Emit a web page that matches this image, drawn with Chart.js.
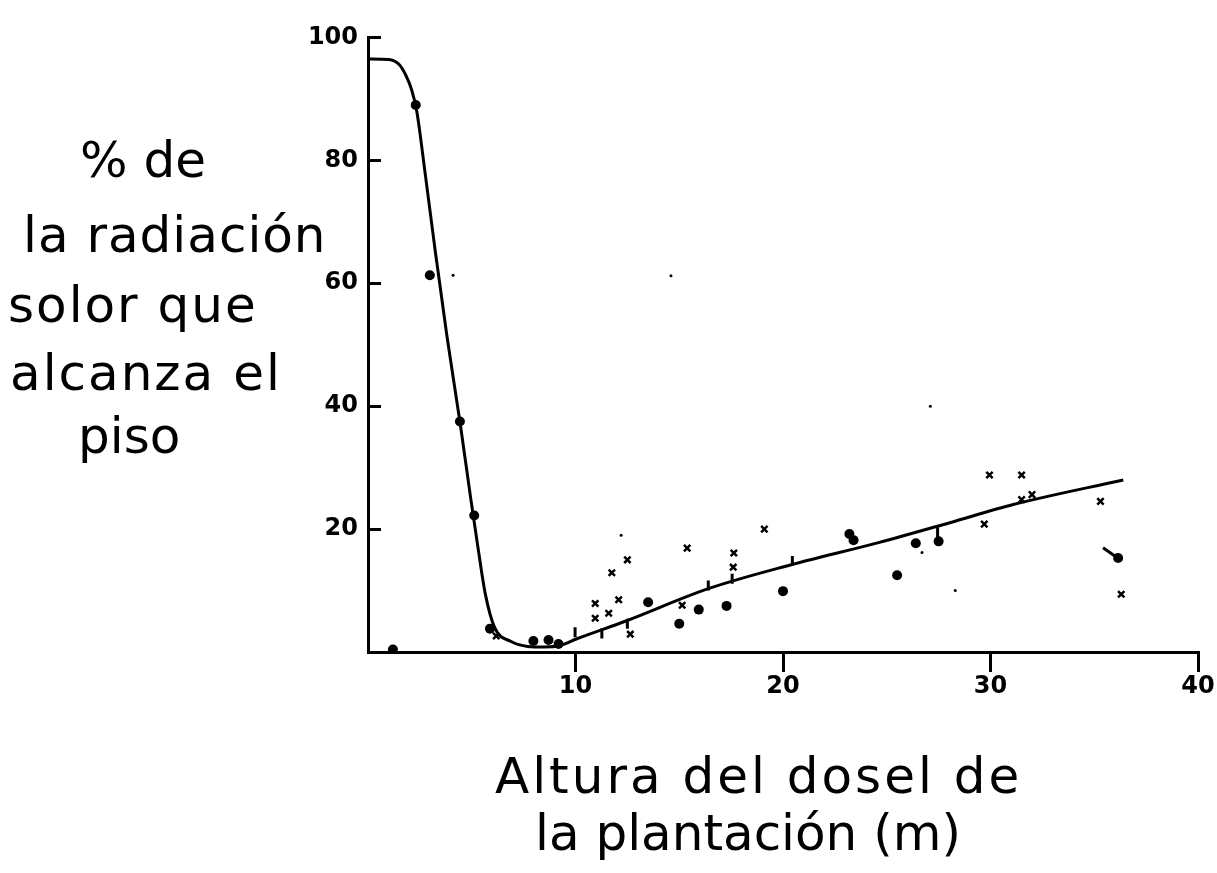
<!DOCTYPE html>
<html>
<head>
<meta charset="utf-8">
<script src="https://cdn.jsdelivr.net/npm/chart.js@4.4.1/dist/chart.umd.min.js"></script>
<style>
  html, body { margin: 0; padding: 0; background: #fff; }
  #wrap { position: relative; width: 1217px; height: 873px; }
  .hand { position: absolute; font-family: 'DejaVu Sans', sans-serif; color: #000; white-space: nowrap; line-height: 50px; font-size: 50px; }
</style>
</head>
<body>
<div id="wrap">
  <canvas id="chartRadiacion"></canvas>
  <!-- titulo eje Y (escrito a mano, horizontal) -->
  <div class="hand" style="left:80px; top:135px;">% de</div>
  <div class="hand" style="left:23px; top:210px; letter-spacing:1px;">la radiación</div>
  <div class="hand" style="left:8px; top:280px; letter-spacing:2px;">solor que</div>
  <div class="hand" style="left:10px; top:348px; letter-spacing:2px;">alcanza el</div>
  <div class="hand" style="left:78px; top:411px;">piso</div>
  <!-- titulo eje X -->
  <div class="hand" style="left:495px; top:751px; letter-spacing:3px;">Altura del dosel de</div>
  <div class="hand" style="left:535px; top:808px;">la plantación (m)</div>
</div>
<script>
// curva ajustada (sigmoide que baja y luego recta que sube)
const curvePoints = [
  [0, 96.5], [1.0, 96.4], [1.5, 95.6], [1.8, 94], [2.1, 91.5], [2.35, 88], [2.75, 78],
  [3.25, 65], [3.8, 51.5], [4.45, 37], [4.95, 25], [5.3, 17], [5.65, 9.5],
  [6.1, 4], [6.9, 1.7], [7.7, 0.9], [8.5, 0.8], [9.3, 1.1], [10.1, 2.2], [12.4, 5],
  [16.4, 10.3], [20.4, 14.2], [24.6, 17.8], [28, 21], [31.1, 24], [36.4, 28]
];

// puntos (circulos llenos)
const circlePoints = [
  [1.2, 0.4], [2.3, 89], [2.98, 61.3], [4.43, 37.5], [5.12, 22.2], [5.88, 3.8],
  [7.97, 1.8], [8.7, 1.95], [9.18, 1.3], [13.5, 8.1], [15.0, 4.6], [15.94, 6.9],
  [17.28, 7.5], [20.0, 9.9], [23.2, 19.2], [23.4, 18.2], [25.5, 12.5], [26.4, 17.7],
  [27.5, 18.0], [36.15, 15.3]
];

// cruces
const crossPoints = [
  [6.18, 2.6], [10.95, 7.9], [10.95, 5.5], [11.6, 6.3], [11.75, 12.9], [12.08, 8.5],
  [12.5, 15.0], [12.64, 2.9], [15.14, 7.6], [15.38, 16.9], [17.63, 16.1], [17.6, 13.8],
  [19.1, 20.0], [29.7, 20.8], [29.95, 28.8], [31.5, 28.8], [31.5, 24.8], [32.0, 25.6],
  [35.3, 24.5], [36.3, 9.4]
];

// marcas verticales sobre la recta
const barPoints = [
  [9.98, 3.2], [11.27, 3.0], [12.5, 4.6], [16.4, 10.8], [17.55, 11.9], [20.45, 14.8], [27.45, 19.5]
];

// trazo suelto y motas del escaneo
const dashPoints = [[35.7, 16.3]];
const speckPoints = [[4.1, 61.3], [14.6, 61.2], [12.2, 19], [26.7, 16.2], [28.3, 10], [27.1, 40]];

const xTickValues = [10, 20, 30, 40];
const yTickValues = [20, 40, 60, 80, 100];

const toXY = arr => arr.map(p => ({ x: p[0], y: p[1] }));
const tickFont = { family: 'DejaVu Sans', size: 24, weight: 'bold' };

const ctx = document.getElementById('chartRadiacion').getContext('2d');
new Chart(ctx, {
  type: 'scatter',
  data: {
    datasets: [
      {
        data: toXY(curvePoints),
        showLine: true,
        borderColor: '#000',
        borderWidth: 3,
        pointRadius: 0,
        cubicInterpolationMode: 'monotone'
      },
      {
        data: toXY(circlePoints),
        pointStyle: 'circle',
        pointRadius: 5,
        backgroundColor: '#000',
        borderColor: '#000',
        borderWidth: 0
      },
      {
        data: toXY(crossPoints),
        pointStyle: 'crossRot',
        pointRadius: 4.5,
        borderColor: '#000',
        borderWidth: 2.5
      },
      {
        data: toXY(barPoints),
        pointStyle: 'line',
        rotation: 90,
        pointRadius: 5,
        borderColor: '#000',
        borderWidth: 3
      },
      {
        data: toXY(dashPoints),
        pointStyle: 'line',
        rotation: 35,
        pointRadius: 7,
        borderColor: '#000',
        borderWidth: 3
      },
      {
        data: toXY(speckPoints),
        pointStyle: 'circle',
        pointRadius: 1.5,
        backgroundColor: '#000',
        borderWidth: 0
      }
    ]
  },
  options: {
    responsive: true,
    maintainAspectRatio: false,
    animation: false,
    layout: { padding: { top: 23, right: 19, left: 0, bottom: 0 } },
    plugins: {
      legend: { display: false },
      tooltip: { enabled: false }
    },
    scales: {
      x: {
        type: 'linear',
        min: 0,
        max: 40,
        afterBuildTicks: scale => { scale.ticks = xTickValues.map(v => ({ value: v })); },
        afterFit: scale => { scale.height = 221; },
        border: { color: '#000', width: 3 },
        grid: { drawOnChartArea: false, drawTicks: true, tickLength: 20, color: '#000', lineWidth: 3 },
        ticks: { color: '#000', font: tickFont, padding: 0, maxRotation: 0 }
      },
      y: {
        type: 'linear',
        min: 0,
        max: 100,
        afterBuildTicks: scale => { scale.ticks = yTickValues.map(v => ({ value: v })); },
        afterFit: scale => { scale.width = 368; },
        border: { color: '#000', width: 3 },
        grid: { drawOnChartArea: false, drawTicks: true, tickLength: -13, color: '#000', lineWidth: 3 },
        ticks: { color: '#000', font: tickFont, padding: 23 }
      }
    }
  }
});
</script>
</body>
</html>
